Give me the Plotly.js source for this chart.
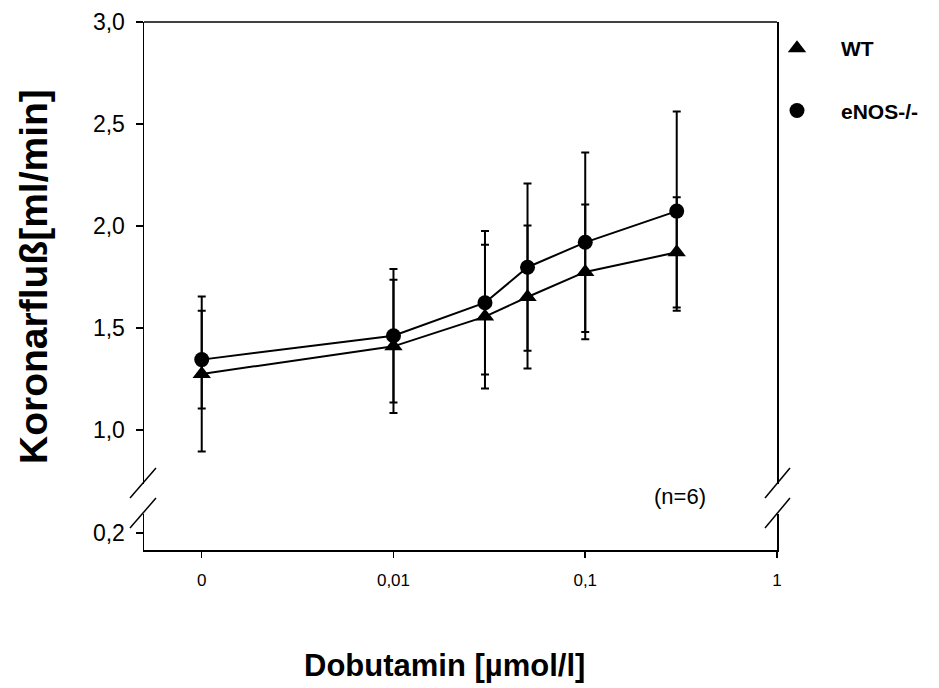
<!DOCTYPE html>
<html>
<head>
<meta charset="utf-8">
<script src="https://cdn.plot.ly/plotly-3.0.1.min.js"></script>
<style>html,body{margin:0;padding:0;background:#fff;}#chart{width:939px;height:688px;}</style>
</head>
<body>
<div id="chart"></div>
<script>
// Dobutamin dose [µmol/l]; the "0" dose is plotted at 0.001 on the log axis
var doses = [0.001, 0.01, 0.03, 0.05, 0.1, 0.3];
var xTickVals = [0.001, 0.01, 0.1, 1];
var xTickText = ["0", "0,01", "0,1", "1"];

// WT (triangles)
var wtMean = [1.275, 1.41, 1.556, 1.652, 1.775, 1.871];
var wtErr  = [0.38, 0.327, 0.352, 0.35, 0.33, 0.27];

// eNOS-/- (circles)
var enosMean = [1.345, 1.462, 1.624, 1.798, 1.92, 2.073];
var enosErr  = [0.24, 0.327, 0.352, 0.41, 0.44, 0.488];

var upperTicks = [1.0, 1.5, 2.0, 2.5, 3.0];
var lowerTicks = [0.2];

var FONT = '"Liberation Sans", Arial, sans-serif';
// plot area in pixels
var L = 144, R = 777, T = 22, B = 550;
var W = 939, H = 688;
function px(x) { return (x - L) / (R - L); }
function py(y) { return (B - y) / (B - T); }

function series(name, y, err, symbol, size) {
  return {
    type: 'scatter', mode: 'lines+markers', name: name,
    x: doses, y: y, xaxis: 'x', yaxis: 'y2', showlegend: false,
    line: {color: '#000', width: 2},
    marker: {symbol: symbol, size: size, color: '#000'},
    error_y: {type: 'data', array: err, visible: true, color: '#000', thickness: 2, width: 4}
  };
}

var traces = [
  // empty trace so the lower (broken) y-axis segment exists
  {type: 'scatter', mode: 'markers', x: [null], y: [null], xaxis: 'x', yaxis: 'y', showlegend: false, hoverinfo: 'skip'},
  series('WT', wtMean, wtErr, 'triangle-up', 16),
  series('eNOS-/-', enosMean, enosErr, 'circle', 15),
  // legend-only entries (markers only, no line)
  {type: 'scatter', mode: 'markers', name: 'WT', x: [null], y: [null], xaxis: 'x', yaxis: 'y2',
   marker: {symbol: 'triangle-up', size: 16, color: '#000'}, legendgroup: 'a'},
  {type: 'scatter', mode: 'markers', name: 'eNOS-/-', x: [null], y: [null], xaxis: 'x', yaxis: 'y2',
   marker: {symbol: 'circle', size: 15, color: '#000'}, legendgroup: 'b'}
];

var upperBottom = 484, lowerTop = 514;
var pxPerUnit = (430 - T) / 2.0;
var upperMin = 1.0 - (upperBottom - 430) / pxPerUnit;
var f02 = (B - 533) / (B - lowerTop);

var layout = {
  width: W, height: H,
  margin: {l: L, r: W - R, t: T, b: H - B},
  paper_bgcolor: '#fff', plot_bgcolor: '#fff',
  separators: ',.',
  font: {family: FONT, color: '#000'},
  showlegend: true,
  legend: {
    x: px(753), y: py(28), xanchor: 'left', yanchor: 'top',
    font: {family: FONT, size: 21, color: '#000', weight: 'bold'},
    itemwidth: 78, tracegroupgap: 32, traceorder: 'grouped',
    bgcolor: 'rgba(0,0,0,0)'
  },
  xaxis: {
    type: 'log', range: [Math.log10(0.0005), 0],
    anchor: 'y',
    tickvals: xTickVals, ticktext: xTickText,
    ticks: 'outside', ticklen: 6, tickwidth: 1.5, tickcolor: '#000',
    showline: true, linecolor: '#000', linewidth: 1.5,
    showgrid: false, zeroline: false,
    tickfont: {family: FONT, size: 17, color: '#000'},
    ticklabelstandoff: 8
  },
  yaxis: {
    domain: [0, py(lowerTop)],
    range: [0.2 - f02 * 0.2, 0.2 + (1 - f02) * 0.2],
    anchor: 'x',
    tickvals: lowerTicks, tickformat: '.1f',
    ticks: 'outside', ticklen: 7, tickwidth: 1.5, tickcolor: '#000',
    showline: true, linecolor: '#000', linewidth: 1.5, mirror: true,
    showgrid: false, zeroline: false,
    tickfont: {family: FONT, size: 23, color: '#000'},
    ticklabelstandoff: 6
  },
  yaxis2: {
    domain: [py(upperBottom), 1],
    range: [upperMin, 3.0],
    anchor: 'x',
    tickvals: upperTicks, tickformat: '.1f',
    ticks: 'outside', ticklen: 7, tickwidth: 1.5, tickcolor: '#000',
    showline: true, linecolor: '#000', linewidth: 1.5, mirror: true,
    showgrid: false, zeroline: false,
    tickfont: {family: FONT, size: 23, color: '#000'},
    ticklabelstandoff: 6
  },
  shapes: [
    // top frame line
    {type: 'line', xref: 'paper', yref: 'paper', x0: 0, x1: 1, y0: 1, y1: 1, line: {color: '#000', width: 1.5}},
    // axis break marks, left
    {type: 'line', xref: 'paper', yref: 'paper', x0: px(156), y0: py(468), x1: px(130), y1: py(498), line: {color: '#000', width: 1.5}},
    {type: 'line', xref: 'paper', yref: 'paper', x0: px(156), y0: py(498), x1: px(130), y1: py(528), line: {color: '#000', width: 1.5}},
    // axis break marks, right
    {type: 'line', xref: 'paper', yref: 'paper', x0: px(790), y0: py(468), x1: px(765), y1: py(498), line: {color: '#000', width: 1.5}},
    {type: 'line', xref: 'paper', yref: 'paper', x0: px(790), y0: py(498), x1: px(765), y1: py(528), line: {color: '#000', width: 1.5}}
  ],
  annotations: [
    {text: 'Koronarfluß[ml/min]', xref: 'paper', yref: 'paper', x: px(33), y: py(277),
     xanchor: 'center', yanchor: 'middle', textangle: -90, showarrow: false,
     font: {family: FONT, size: 39, color: '#000', weight: 'bold'}},
    {text: 'Dobutamin [µmol/l]', xref: 'paper', yref: 'paper', x: px(444), y: py(665),
     xanchor: 'center', yanchor: 'middle', showarrow: false,
     font: {family: FONT, size: 31, color: '#000', weight: 'bold'}},
    {text: '(n=6)', xref: 'paper', yref: 'paper', x: px(680), y: py(496),
     xanchor: 'center', yanchor: 'middle', showarrow: false,
     font: {family: FONT, size: 22, color: '#000'}}
  ]
};

Plotly.newPlot('chart', traces, layout, {displayModeBar: false, staticPlot: true});
</script>
</body>
</html>
